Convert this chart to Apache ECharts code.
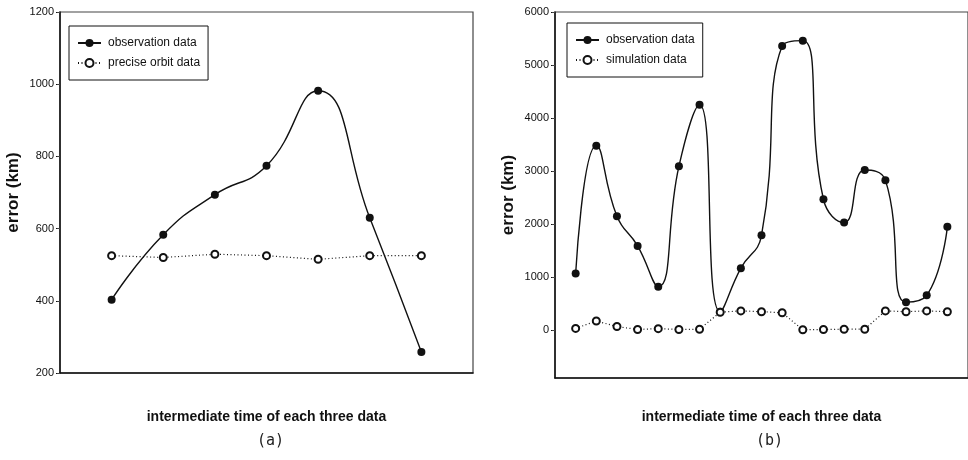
<!DOCTYPE html>
<html>
<head>
<meta charset="utf-8">
<script src="https://cdn.jsdelivr.net/npm/echarts@6/dist/echarts.min.js"></script>
<style>
  html, body { margin: 0; padding: 0; background: #fff; }
  #chart { width: 968px; height: 460px; }
</style>
</head>
<body>
<div id="chart"></div>
<script>
// (a) observation vs precise orbit
var obsA = [403, 583, 694, 774, 982, 630, 258]
var orbitA = [525, 520, 529, 525, 515, 525, 525]
var ticksA = [200, 400, 600, 800, 1000, 1200]

// (b) observation vs simulation
var obsB = [1070, 3480, 2150, 1590, 820, 3090, 4250, 350, 1170, 1790, 5360, 5460, 2470, 2030, 3020, 2830, 530, 660, 1950]
var simB = [35, 175, 70, 15, 30, 15, 20, 340, 365, 350, 330, 10, 15, 20, 20, 365, 350, 365, 350]
var ticksB = [0, 1000, 2000, 3000, 4000, 5000, 6000]

var xName = 'intermediate time of each three data'
var yName = 'error (km)'
var font = "'Liberation Sans', Arial, sans-serif"
var ink = '#111'

function pairs(arr) {
  return arr.map(function (v, i) { return [i + 1, v] })
}

function xAxis(gridIndex, max, gap) {
  return {
    type: 'value', gridIndex: gridIndex, min: 0, max: max,
    name: xName, nameLocation: 'middle', nameGap: gap,
    nameTextStyle: { fontFamily: font, fontWeight: 'bold', fontSize: 14, color: ink },
    axisLine: { show: true, onZero: false, lineStyle: { color: ink, width: 1.5 } },
    axisTick: { show: false }, axisLabel: { show: false }, splitLine: { show: false }
  }
}

function yAxis(gridIndex, min, max, ticks) {
  return {
    type: 'value', gridIndex: gridIndex, min: min, max: max,
    name: yName, nameLocation: 'middle', nameGap: 38,
    nameTextStyle: { fontFamily: font, fontWeight: 'bold', fontSize: 17, color: ink },
    axisLine: { show: true, onZero: false, lineStyle: { color: ink, width: 1.5 } },
    axisTick: { show: true, length: 4, customValues: ticks, lineStyle: { color: ink } },
    axisLabel: {
      margin: 6, customValues: ticks, fontFamily: font, fontSize: 11, color: ink,
      formatter: function (v) { return String(v) }
    },
    splitLine: { show: false }
  }
}

// mirror ticks on the right border, pointing inward
function yRight(gridIndex, min, max, ticks) {
  return {
    type: 'value', gridIndex: gridIndex, min: min, max: max, position: 'right',
    axisLine: { show: false },
    axisTick: { show: true, inside: true, length: 3, customValues: ticks, lineStyle: { color: '#444' } },
    axisLabel: { show: false }, splitLine: { show: false }
  }
}

function obsSeries(name, xi, data, size) {
  return {
    name: name, type: 'line', xAxisIndex: xi, yAxisIndex: xi * 2,
    data: pairs(data), smooth: 0.5,
    symbol: 'circle', symbolSize: size,
    itemStyle: { color: ink },
    lineStyle: { color: ink, width: 1.4 },
    z: 3
  }
}

function dotSeries(name, xi, data, size) {
  return {
    name: name, type: 'line', xAxisIndex: xi, yAxisIndex: xi * 2,
    data: pairs(data),
    symbol: 'emptyCircle', symbolSize: size,
    itemStyle: { color: ink, borderWidth: 1 },
    lineStyle: { color: ink, width: 1.2, type: [1, 2.5] },
    z: 4
  }
}

function legend(left, top, names) {
  return {
    left: left, top: top, orient: 'vertical',
    data: names,
    borderColor: ink, borderWidth: 1, borderRadius: 0,
    padding: [11, 8, 11, 8],
    itemWidth: 23, itemHeight: 10, itemGap: 8,
    textStyle: { fontFamily: font, fontSize: 12, color: ink, padding: [0, 0, 0, 2] },
    selectedMode: false
  }
}

var chart = echarts.init(document.getElementById('chart'), null, { renderer: 'canvas' })

chart.setOption({
  backgroundColor: '#fff',
  animation: false,
  grid: [
    { left: 60, top: 12, width: 413, height: 361, show: true, borderColor: '#444', borderWidth: 1.2 },
    { left: 555, top: 12, width: 416.6, height: 366, show: true, borderColor: '#444', borderWidth: 1.2 }
  ],
  xAxis: [xAxis(0, 8, 37), xAxis(1, 20, 32)],
  yAxis: [
    yAxis(0, 200, 1200, ticksA), yRight(0, 200, 1200, ticksA),
    yAxis(1, -900, 6000, ticksB), yRight(1, -900, 6000, ticksB)
  ],
  legend: [
    legend(69, 26, ['observation data', 'precise orbit data']),
    legend(567, 23, ['observation data', 'simulation data'])
  ],
  graphic: [
    { type: 'text', left: 257, top: 434, style: { text: '(a)', fontFamily: "'DejaVu Sans Mono', monospace", fontSize: 15, fill: '#222' } },
    { type: 'text', left: 756, top: 434, style: { text: '(b)', fontFamily: "'DejaVu Sans Mono', monospace", fontSize: 15, fill: '#222' } }
  ],
  series: [
    obsSeries('observation data', 0, obsA, 8),
    dotSeries('precise orbit data', 0, orbitA, 7),
    obsSeries('observation data', 1, obsB, 8),
    dotSeries('simulation data', 1, simB, 7)
  ]
})
</script>
</body>
</html>
